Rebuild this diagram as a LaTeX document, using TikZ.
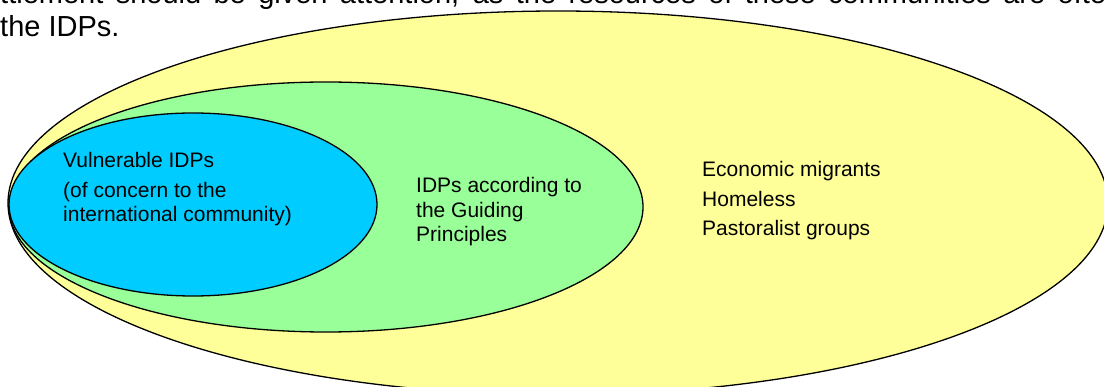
\documentclass[tikz,border=0pt]{standalone}
\usepackage{fontspec}
\setmainfont{Liberation Sans}
\usetikzlibrary{positioning}
\definecolor{gelb}{HTML}{FFFF99}
\definecolor{gruen}{HTML}{99FF99}
\definecolor{blau}{HTML}{00CCFF}

\begin{document}
\begin{tikzpicture}[x=1pt,y=-1pt,
  kreis/.style={draw=black,line width=1.3pt},
  beschriftung/.style={anchor=base west,inner sep=0pt,font=\fontsize{21}{24.5}\selectfont},
  fliesstext/.style={anchor=base west,inner sep=0pt,font=\fontsize{29}{33}\selectfont}]
\useasboundingbox (0,0) rectangle (1104,387);
\clip (0,0) rectangle (1104,387);
%Text aus dem Absatz darueber (oben abgeschnitten)
\node[fliesstext] (satzeins) at (0,4) {\makebox[1106pt][s]{ttlement should be given attention, as the resources of these communities are ofte}};
\node[fliesstext] (satzzwei) at (0,37) {the IDPs.};
%Ellipsen von aussen nach innen
\draw[kreis,fill=gelb] (558,203) ellipse [x radius=550, y radius=192];
\draw[kreis,fill=gruen] (326,207) ellipse [x radius=317, y radius=125];
\draw[kreis,fill=blau] (193,204.5) ellipse [x radius=184, y radius=91.5];
%Beschriftungen
\foreach \txt/\yy [count=\i] in {{Vulnerable IDPs}/168,{(of concern to the}/198,{international community)}/222}
  \node[beschriftung] (innen\i) at (63,\yy) {\txt};
\foreach \txt/\yy [count=\i] in {{IDPs according to}/193,{the Guiding}/218,{Principles}/242}
  \node[beschriftung] (mitte\i) at (416,\yy) {\txt};
\foreach \txt/\yy [count=\i] in {{Economic migrants}/177,{Homeless}/207,{Pastoralist groups}/236}
  \node[beschriftung] (aussen\i) at (702,\yy) {\txt};
\end{tikzpicture}
\end{document}
